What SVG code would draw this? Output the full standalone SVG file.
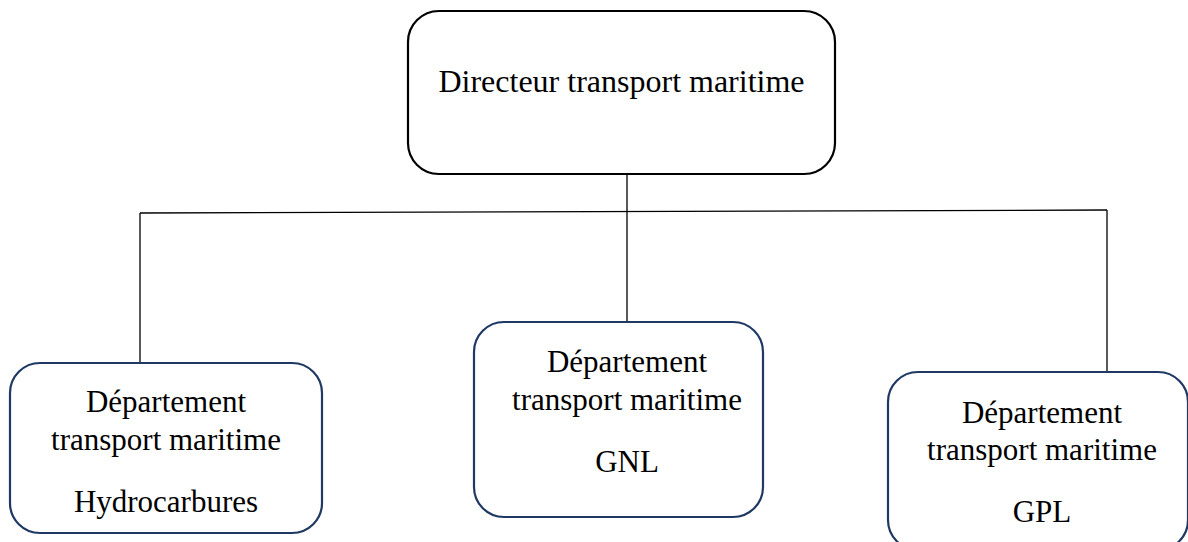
<svg xmlns="http://www.w3.org/2000/svg" width="1188" height="542" viewBox="0 0 1188 542">
  <style>
    .head { fill: #ffffff; stroke: #000000; stroke-width: 2.2; }
    .dept { fill: #ffffff; stroke: #1f3864; stroke-width: 2.2; }
    .wire { fill: none; stroke: #000000; stroke-width: 1.3; }
    text { font-family: "Liberation Serif", "Times New Roman", serif; font-size: 31px; fill: #000000; text-anchor: middle; }
    .title { font-size: 32px; }
  </style>
  <rect width="1188" height="542" fill="#ffffff"/>

  <!-- connectors -->
  <g id="connectors">
    <line class="wire" x1="627" y1="174" x2="627" y2="322"/>
    <line class="wire" x1="140" y1="213" x2="1107" y2="210"/>
    <line class="wire" x1="140" y1="213" x2="140" y2="363"/>
    <line class="wire" x1="1107" y1="210" x2="1107" y2="372"/>
  </g>

  <!-- director -->
  <g id="directeur">
    <rect class="head" x="408" y="11" width="427" height="163" rx="31" ry="31"/>
    <text class="title" x="621.5" y="92">Directeur transport maritime</text>
  </g>

  <!-- departments -->
  <g id="dept-hydrocarbures">
    <rect class="dept" x="10" y="363" width="312" height="170" rx="30" ry="30"/>
    <text x="166" y="412">Département</text>
    <text x="166" y="450">transport maritime</text>
    <text x="166" y="512">Hydrocarbures</text>
  </g>

  <g id="dept-gnl">
    <rect class="dept" x="474" y="322" width="289" height="195" rx="30" ry="30"/>
    <text x="627" y="372">Département</text>
    <text x="627" y="410">transport maritime</text>
    <text x="627" y="472">GNL</text>
  </g>

  <g id="dept-gpl">
    <rect class="dept" x="888" y="372" width="300" height="178" rx="30" ry="30"/>
    <text x="1042" y="423">Département</text>
    <text x="1042" y="460">transport maritime</text>
    <text x="1042" y="522">GPL</text>
  </g>
</svg>
